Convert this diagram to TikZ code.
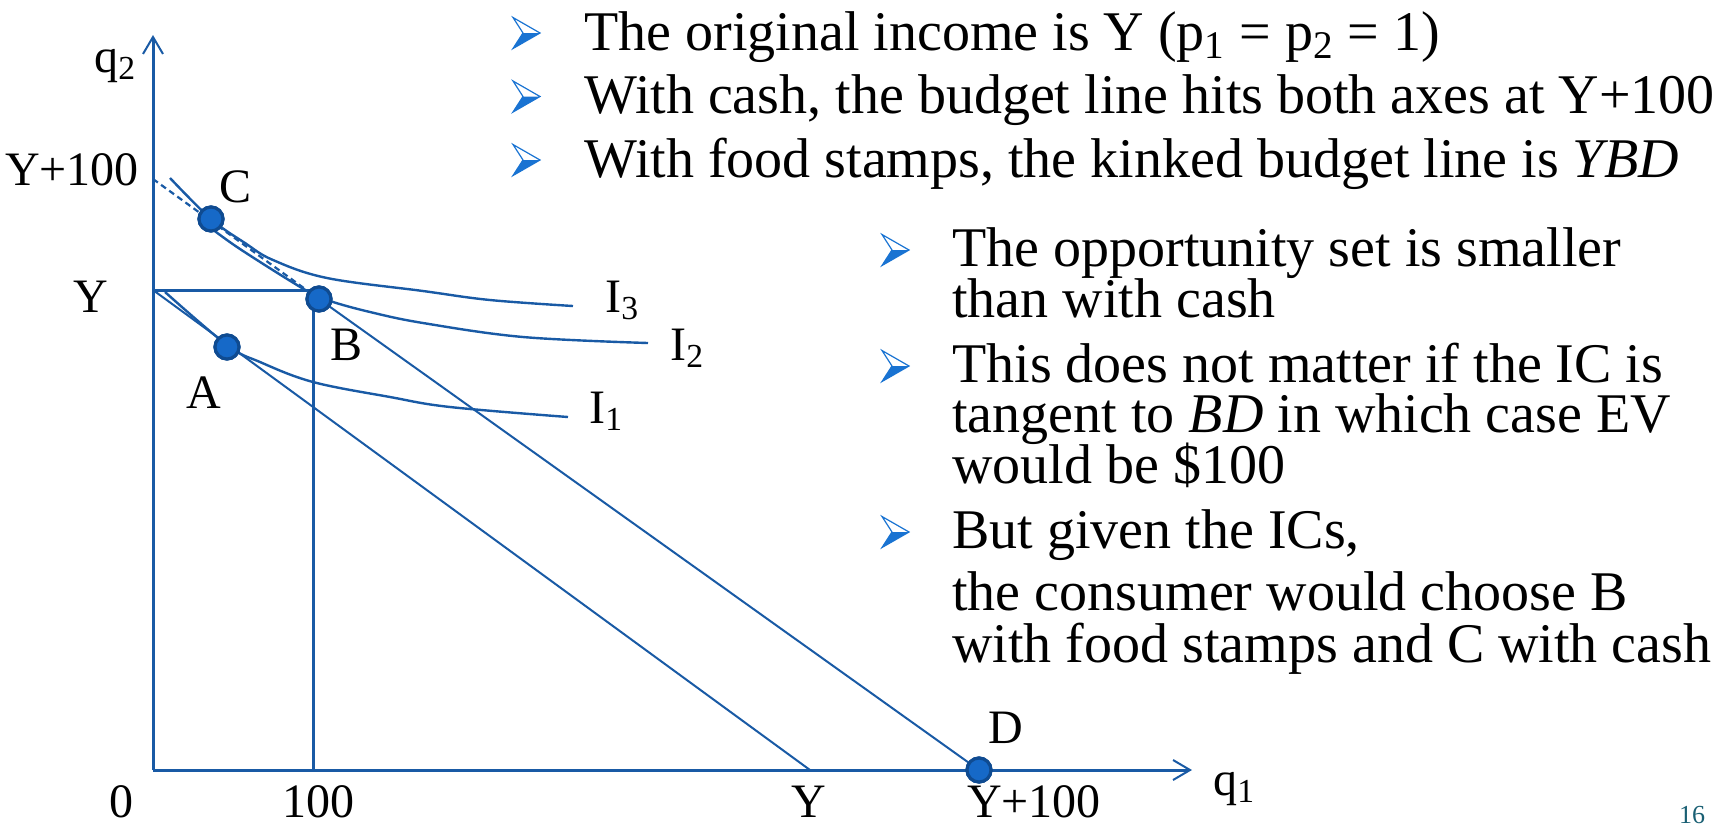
\documentclass[tikz,border=0pt]{standalone}
\usepackage{fontspec}
\setmainfont{Liberation Serif}
\usetikzlibrary{arrows.meta}
\definecolor{lineblue}{RGB}{25,90,165}
\definecolor{dotfill}{RGB}{22,105,200}
\definecolor{dotedge}{RGB}{15,75,145}
\definecolor{bulblue}{RGB}{25,115,210}
\definecolor{pagenum}{RGB}{25,95,115}
\tikzset{
  axisln/.style={lineblue, line width=1.5pt, -{Straight Barb[length=8.5pt,width=10pt,line width=1pt]}},
  thickln/.style={lineblue, line width=1.5pt},
  thinln/.style={lineblue, line width=1pt},
  icurve/.style={lineblue, line width=1.2pt},
  dot/.style={circle, minimum size=12pt, inner sep=0pt, fill=dotfill, draw=dotedge, line width=1.6pt},
  lab/.style={font=\fontsize{24}{28}\selectfont, inner sep=0pt, anchor=base},
  labw/.style={font=\fontsize{24}{28}\selectfont, inner sep=0pt, anchor=base west},
  body/.style={font=\fontsize{28}{33}\selectfont, anchor=base west, inner sep=0pt},
  abul/.pic={
    \fill[bulblue] (-3,0) -- (14,0) -- (-13,15.5) -- cycle;
    \draw[bulblue, line width=0.6pt, line join=miter] (-13,-15.5) -- (14,0) -- (-13,15.5) -- (-3,0) -- cycle;
  }
}
\begin{document}
\begin{tikzpicture}[x=0.5pt,y=-0.5pt]
\useasboundingbox (0,0) rectangle (1735,827);
% key points
\coordinate (O) at (153,770);
\coordinate (Ytop) at (153,35);
\coordinate (Xend) at (1192,770);
\coordinate (Yq2) at (153,290);
\coordinate (Y100q2) at (153,179);
\coordinate (K) at (313,290);
\coordinate (K0) at (313,770);
\coordinate (Yq1) at (810,770);
% axes
\draw[axisln] (O) -- (Ytop);
\draw[axisln] (O) -- (Xend);
% food stamp kink
\draw[thickln] (Yq2) -- (K) -- (K0);
% original budget line
\draw[thinln] (Yq2) -- (Yq1);
% indifference curves
\draw[icurve] plot[smooth, tension=0.6] coordinates {(170,178) (211,219) (245,243) (273,260) (327,278) (423,291) (490,300) (573,306)};
\draw[icurve] plot[smooth, tension=0.6] coordinates {(207,225) (240,249) (307,291) (330,301) (370,312) (423,323) (523,337) (648,343)};
\draw[icurve] plot[smooth, tension=0.6] coordinates {(165,292) (227,345) (260,362) (313,382) (390,397) (450,407) (568,417)};
% dots
\node[dot] (C) at (211,219) {};
\node[dot] (B) at (319,299) {};
\node[dot] (A) at (227,347) {};
\node[dot] (D) at (979,770) {};
% cash budget line
\draw[lineblue, line width=1.1pt, dash pattern=on 3pt off 2pt] (Y100q2) -- (B.center);
\draw[thinln] (B.center) -- (D.center);
\node[dot] at (B) {};
\node[dot] at (D) {};
\node[dot] at (C) {};
\node[dot] at (A) {};
% labels
\node[labw] (lq2) at (94,72) {q\textsubscript{2}};
\node[labw] (lq1) at (1213,795) {q\textsubscript{1}};
\node[lab] (lY100a) at (72,185) {Y+100};
\node[lab] (lYa) at (91,312) {Y};
\node[lab] (lC) at (236,202) {C};
\node[lab] (lB) at (347,360) {B};
\node[lab] (lA) at (204,408) {A};
\node[lab] (lD) at (1006,743) {D};
\node[labw] (lI3) at (605,312) {I\textsubscript{3}};
\node[labw] (lI2) at (670,360) {I\textsubscript{2}};
\node[labw] (lI1) at (589,423) {I\textsubscript{1}};
\node[lab] (l0) at (121,817) {0};
\node[lab] (l100) at (318,817) {100};
\node[lab] (lYb) at (809,817) {Y};
\node[lab] (lY100b) at (1034,817) {Y+100};
\node[font=\fontsize{13}{15}\selectfont, text=pagenum, inner sep=0pt, anchor=base] (pg) at (1692,823) {16};
% bullets block 1
\pic at (526,33) {abul};
\pic at (526,96.5) {abul};
\pic at (526,160) {abul};
\node[body] (t1) at (584,50) {The original income is Y (p\textsubscript{1} = p\textsubscript{2} = 1)};
\node[body] (t2) at (584,113) {With cash, the budget line hits both axes at Y+100};
\node[body] (t3) at (584,177) {With food stamps, the kinked budget line is \textit{YBD}};
% bullets block 2
\pic at (895,250) {abul};
\pic at (895,366) {abul};
\pic at (895,532) {abul};
\node[body] (s1) at (952,266) {The opportunity set is smaller};
\node[body] (s2) at (952,317) {than with cash};
\node[body] (s3) at (952,382) {This does not matter if the IC is};
\node[body] (s4) at (952,432) {tangent to \textit{BD} in which case EV};
\node[body] (s5) at (952,483) {would be \$100};
\node[body] (s6) at (952,548) {But given the ICs,};
\node[body] (s7) at (952,610) {the consumer would choose B};
\node[body] (s8) at (952,662) {with food stamps and C with cash};
\end{tikzpicture}
\end{document}
